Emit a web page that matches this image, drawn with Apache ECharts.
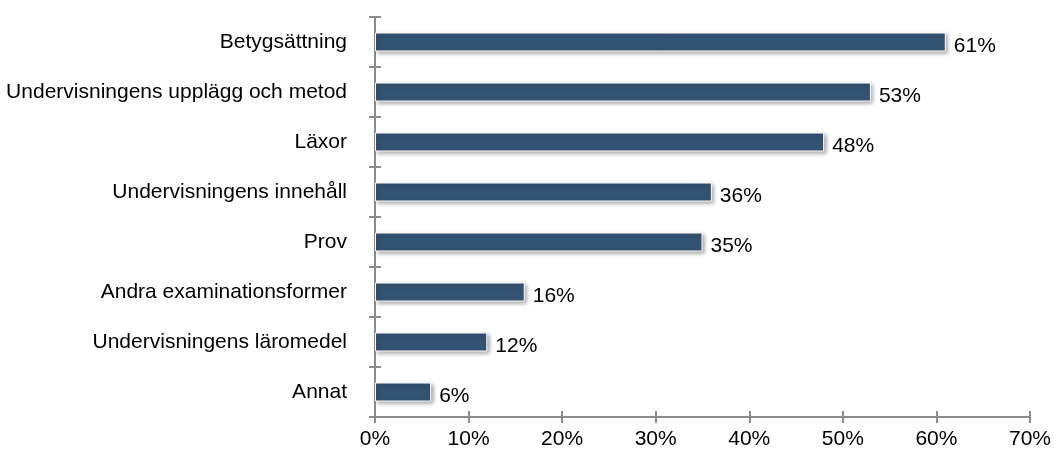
<!DOCTYPE html>
<html><head><meta charset="utf-8">
<script src="https://cdn.jsdelivr.net/npm/echarts@6/dist/echarts.min.js"></script>
<style>html,body{margin:0;padding:0;background:#fff}#c{width:1054px;height:450px}</style>
</head><body><div id="c"></div>
<script>
var categories = ["Betygsättning","Undervisningens upplägg och metod","Läxor","Undervisningens innehåll","Prov","Andra examinationsformer","Undervisningens läromedel","Annat"];
var values = [61,53,48,36,35,16,12,6];
var xTicks = [0,10,20,30,40,50,60,70];

var chart = echarts.init(document.getElementById('c'));
var axisCol = '#8c8c8c';
var font = 'Liberation Sans, Arial, sans-serif';
chart.setOption({
  animation:false,
  grid:{left:375,right:21,top:17,bottom:33,containLabel:false},
  xAxis:[{
    type:'value',min:0,max:70,interval:10,
    axisLine:{show:true,lineStyle:{color:axisCol,width:2}},
    axisTick:{show:true,length:6,lineStyle:{color:axisCol,width:2}},
    splitLine:{show:false},
    axisLabel:{margin:12,color:'#000',fontSize:21,fontFamily:font,formatter:function(v){return v+'%';}}
  },{
    type:'value',min:0,max:70,interval:10,position:'bottom',
    axisLine:{show:false},
    axisTick:{show:true,inside:true,length:6,lineStyle:{color:axisCol,width:2}},
    splitLine:{show:false},axisLabel:{show:false}
  }],
  yAxis:[{
    type:'category',inverse:true,data:categories,
    axisLine:{show:true,lineStyle:{color:axisCol,width:2}},
    axisTick:{show:true,length:6,lineStyle:{color:axisCol,width:2}},
    axisLabel:{margin:28,color:'#000',fontSize:21,fontFamily:font}
  },{
    type:'category',inverse:true,data:categories,position:'left',
    axisLine:{show:false},
    axisTick:{show:true,inside:true,length:6,lineStyle:{color:axisCol,width:2}},
    axisLabel:{show:false}
  }],
  series:[{
    type:'bar',data:values,barWidth:19,xAxisIndex:0,yAxisIndex:0,
    itemStyle:{color:'#335372',borderColor:'#ffffff',borderWidth:1,
      shadowColor:'rgba(0,0,0,0.35)',shadowBlur:4,shadowOffsetX:2,shadowOffsetY:2},
    label:{show:true,position:'right',distance:8,offset:[0,4],color:'#000',fontSize:21,fontFamily:font,
      formatter:function(p){return p.value+'%';}}
  }]
});
</script></body></html>
